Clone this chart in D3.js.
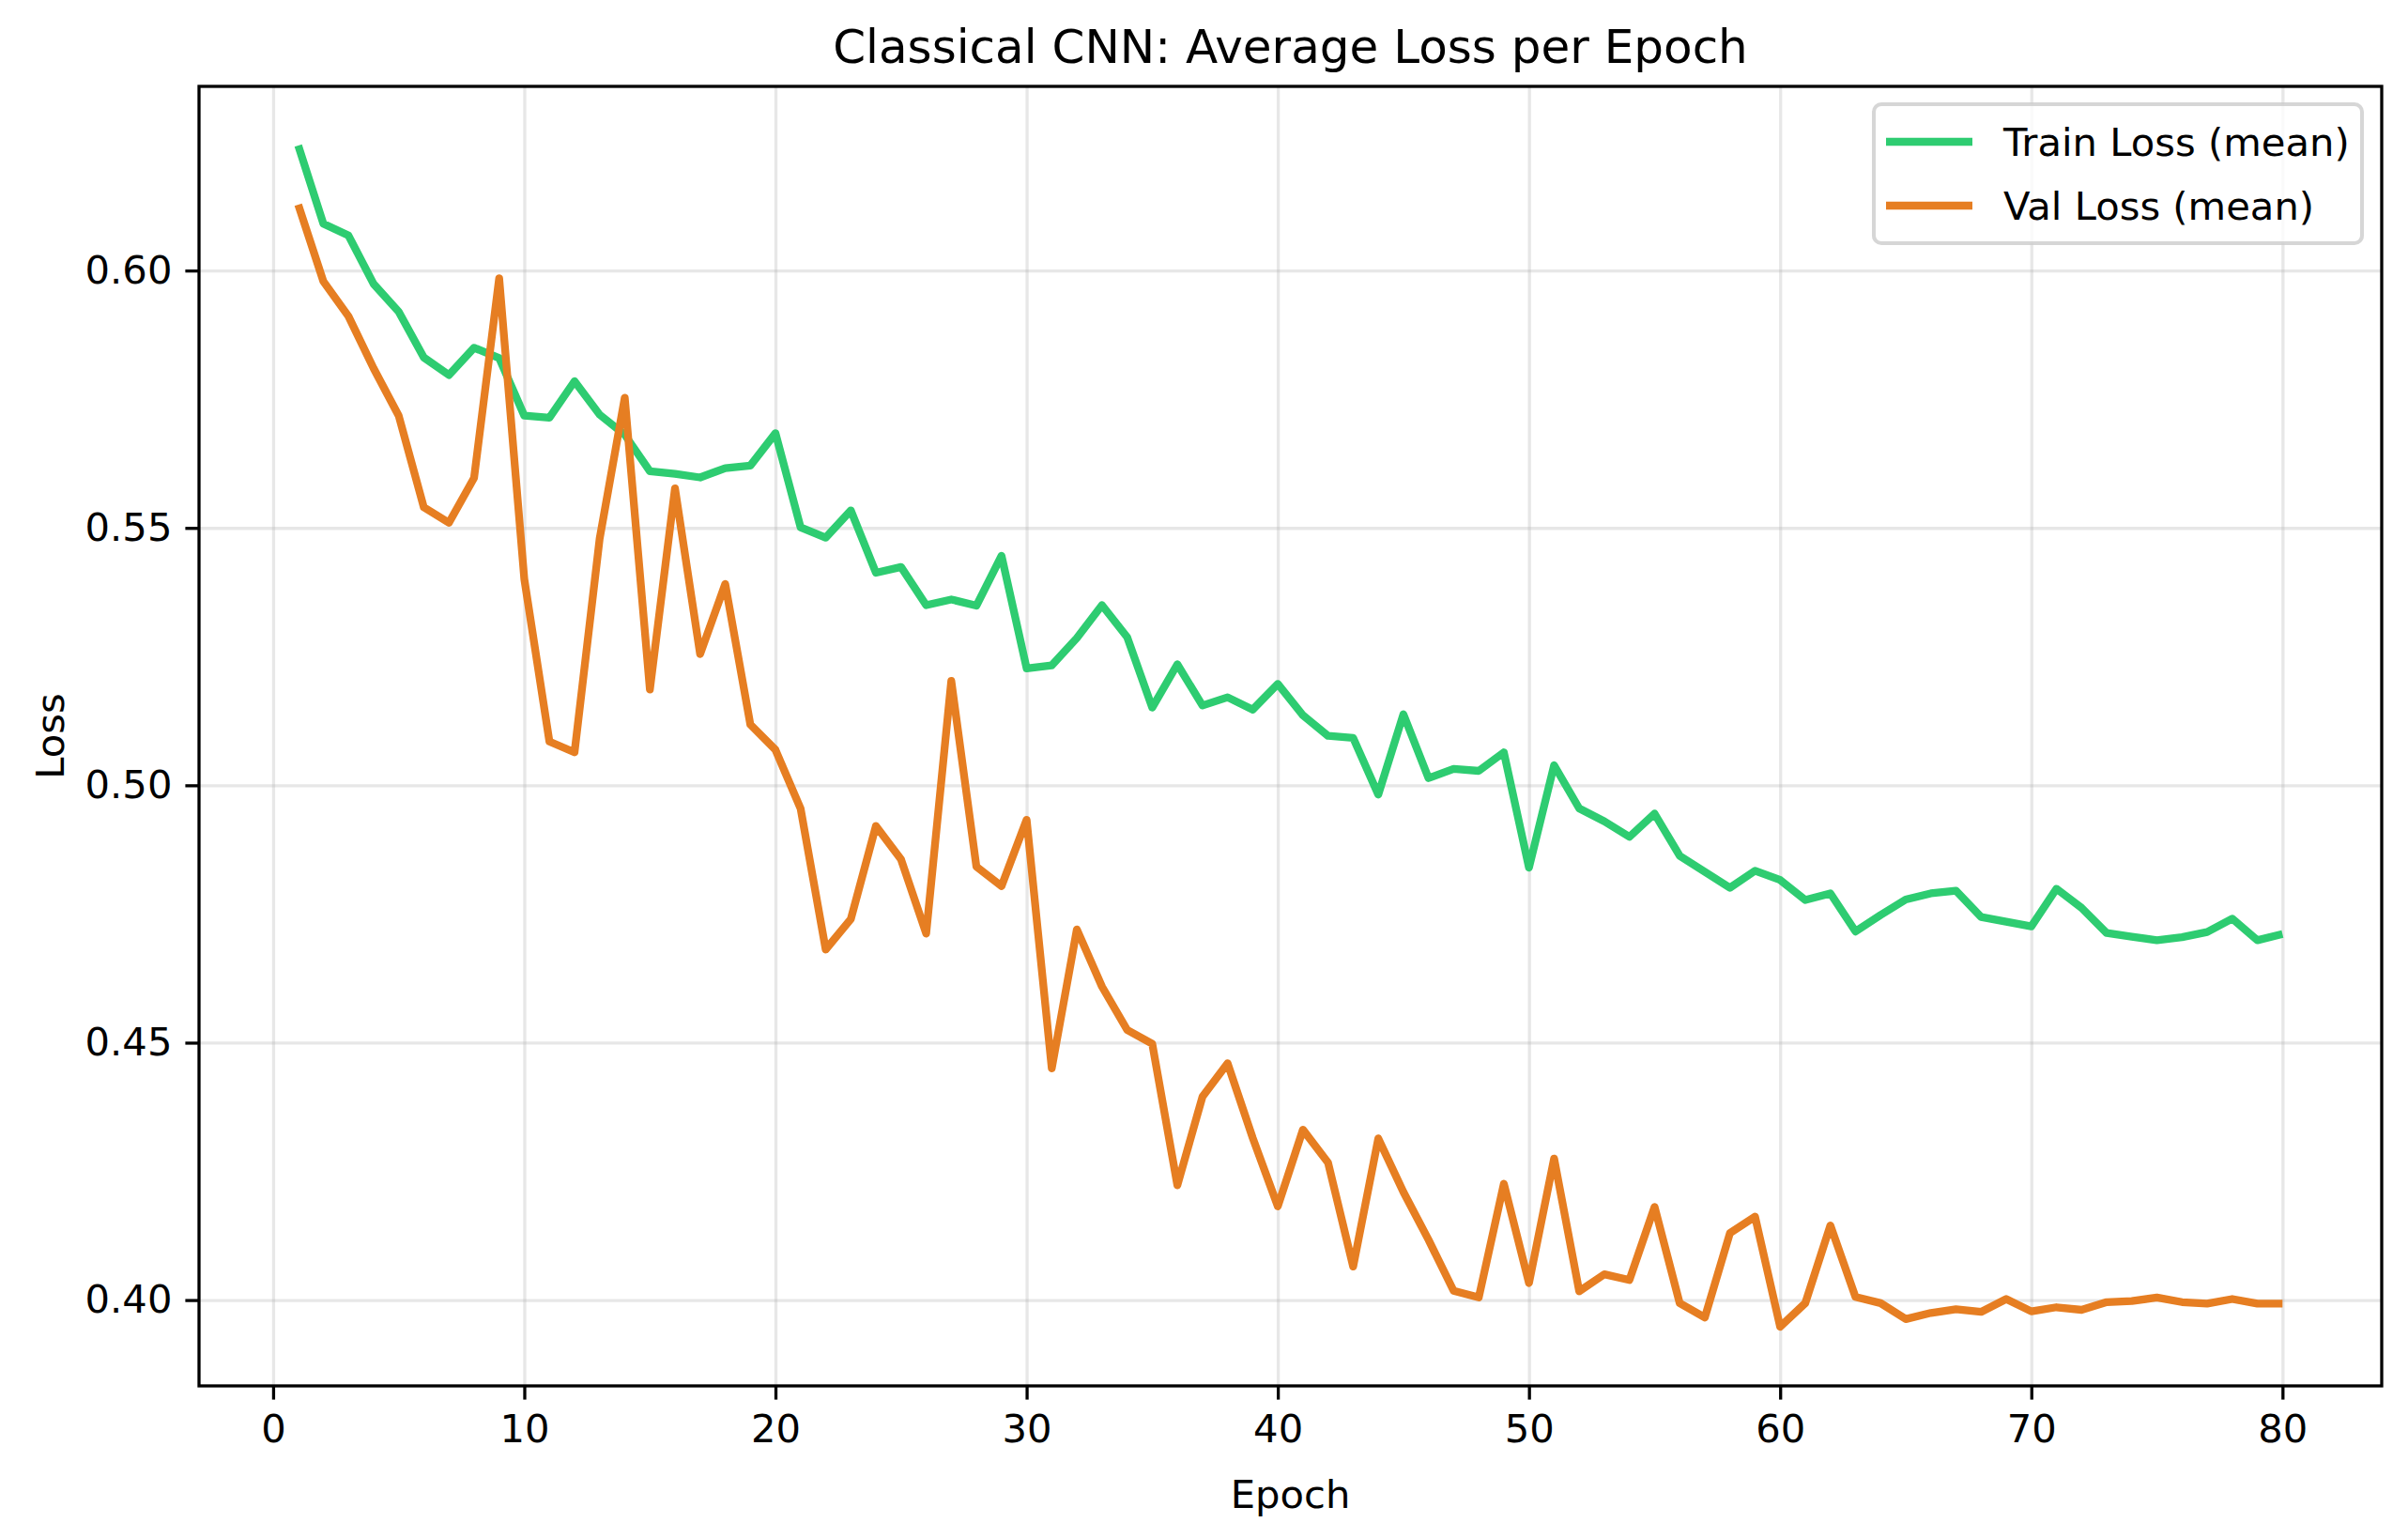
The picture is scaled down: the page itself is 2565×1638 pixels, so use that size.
<!DOCTYPE html>
<html>
<head>
<meta charset="utf-8">
<script src="https://cdn.jsdelivr.net/npm/d3@7.9.0/dist/d3.min.js"></script>
<style>
  body { margin: 0; background: #fff; }
  svg { display: block; font-family: 'DejaVu Sans', sans-serif; }
</style>
</head>
<body>
<div id="chart"></div>
<script>
const epochs = d3.range(1, 81);

const trainLoss = [
  0.6243, 0.6091, 0.6068, 0.5974, 0.592, 0.5831, 0.5797, 0.585, 0.583, 0.5718,
  0.5714, 0.5785, 0.572, 0.5681, 0.561, 0.5605, 0.5598, 0.5616, 0.5621, 0.5684,
  0.5501, 0.5481, 0.5534, 0.5413, 0.5424, 0.535, 0.5361, 0.5349, 0.5446, 0.5227,
  0.5233, 0.5286, 0.535, 0.5288, 0.5151, 0.5235, 0.5155, 0.5171, 0.5147, 0.5197,
  0.5136, 0.5096, 0.5092, 0.4982, 0.5138, 0.5014, 0.5032, 0.5028, 0.5064, 0.484,
  0.5039, 0.4955, 0.493, 0.49, 0.4945, 0.4863, 0.4832, 0.4801, 0.4834, 0.4816,
  0.4777, 0.479, 0.4716, 0.4748, 0.4778, 0.479, 0.4795, 0.4744, 0.4735, 0.4726,
  0.4799, 0.4762, 0.4713, 0.4706, 0.4699, 0.4705, 0.4715, 0.4741, 0.4699, 0.4711
];

const valLoss = [
  0.6128, 0.5979, 0.5911, 0.581, 0.5718, 0.554, 0.551, 0.5597, 0.5985, 0.5401,
  0.5085, 0.5064, 0.5479, 0.5753, 0.5186, 0.5577, 0.5255, 0.5391, 0.5118, 0.5069,
  0.4955, 0.4681, 0.474, 0.4921, 0.4856, 0.4712, 0.5203, 0.4842, 0.4804, 0.4933,
  0.445, 0.472, 0.4609, 0.4525, 0.4498, 0.4223, 0.4395, 0.446, 0.4315, 0.4182,
  0.4331, 0.4267, 0.4065, 0.4314, 0.421, 0.4117, 0.4018, 0.4005, 0.4226, 0.4033,
  0.4275, 0.4017, 0.405, 0.4039, 0.4181, 0.3994, 0.3966, 0.413, 0.4162, 0.3948,
  0.3994, 0.4145, 0.4006, 0.3994, 0.3963, 0.3975, 0.3982, 0.3977, 0.4002, 0.3978,
  0.3986, 0.3981, 0.3996, 0.3998, 0.4005, 0.3996, 0.3993, 0.4002, 0.3993, 0.3993
];

const seriesNames = ['Train Loss (mean)', 'Val Loss (mean)'];
const seriesColors = ['#2ecc71', '#e67e22'];
const xTicks = [0, 10, 20, 30, 40, 50, 60, 70, 80];
const yTicks = [0.40, 0.45, 0.50, 0.55, 0.60];

const width = 2565;
const height = 1638;
const margin = { top: 92, right: 28, bottom: 162, left: 212 };
const fs = 41.7;

const area = {
  left: margin.left,
  right: width - margin.right,
  top: margin.top,
  bottom: height - margin.bottom,
};

const svg = d3.select('#chart')
  .append('svg')
  .attr('width', width)
  .attr('height', height);

// matplotlib style 5% padding
const xPad = (d3.max(epochs) - d3.min(epochs)) * 0.05;
const allLoss = trainLoss.concat(valLoss);
const yPad = (d3.max(allLoss) - d3.min(allLoss)) * 0.05;

const x = d3.scaleLinear()
  .domain([d3.min(epochs) - xPad, d3.max(epochs) + xPad])
  .range([area.left, area.right]);

const y = d3.scaleLinear()
  .domain([d3.min(allLoss) - yPad, d3.max(allLoss) + yPad])
  .range([area.bottom, area.top]);

// grid
svg.append('g')
  .attr('transform', `translate(0, ${area.bottom})`)
  .call(d3.axisBottom(x).tickValues(xTicks).tickFormat('').tickSize(-(area.bottom - area.top)))
  .call((g) => g.select('.domain').remove())
  .selectAll('line')
  .attr('stroke', '#b0b0b0')
  .attr('stroke-opacity', 0.3)
  .attr('stroke-width', 3.3);

svg.append('g')
  .attr('transform', `translate(${area.left}, 0)`)
  .call(d3.axisLeft(y).tickValues(yTicks).tickFormat('').tickSize(-(area.right - area.left)))
  .call((g) => g.select('.domain').remove())
  .selectAll('line')
  .attr('stroke', '#b0b0b0')
  .attr('stroke-opacity', 0.3)
  .attr('stroke-width', 3.3);

// lines
const line = d3.line()
  .x((d, i) => x(epochs[i]))
  .y((d) => y(d));

[trainLoss, valLoss].forEach((values, i) => {
  svg.append('path')
    .datum(values)
    .attr('fill', 'none')
    .attr('stroke', seriesColors[i])
    .attr('stroke-width', 8.3)
    .attr('stroke-linejoin', 'round')
    .attr('stroke-linecap', 'butt')
    .attr('d', line);
});

// axes
const xAxis = svg.append('g')
  .attr('transform', `translate(0, ${area.bottom})`)
  .call(d3.axisBottom(x).tickValues(xTicks).tickFormat(d3.format('d')).tickSize(14.6).tickPadding(14));

const yAxis = svg.append('g')
  .attr('transform', `translate(${area.left}, 0)`)
  .call(d3.axisLeft(y).tickValues(yTicks).tickFormat(d3.format('.2f')).tickSize(14.6).tickPadding(14));

[xAxis, yAxis].forEach((g) => {
  g.select('.domain').remove();
  g.selectAll('line').attr('stroke', '#000').attr('stroke-width', 3.3);
  g.selectAll('text')
    .attr('fill', '#000')
    .style('font-size', `${fs}px`)
    .style('font-family', "'DejaVu Sans', sans-serif");
});
xAxis.selectAll('text').attr('dy', '0.76em');

// frame
svg.append('rect')
  .attr('x', area.left)
  .attr('y', area.top)
  .attr('width', area.right - area.left)
  .attr('height', area.bottom - area.top)
  .attr('fill', 'none')
  .attr('stroke', '#000')
  .attr('stroke-width', 3.3);

// title and labels
svg.append('text')
  .attr('x', (area.left + area.right) / 2)
  .attr('y', area.top - 25)
  .attr('text-anchor', 'middle')
  .style('font-size', '50px')
  .text('Classical CNN: Average Loss per Epoch');

svg.append('text')
  .attr('x', (area.left + area.right) / 2)
  .attr('y', area.bottom + 130)
  .attr('text-anchor', 'middle')
  .style('font-size', `${fs}px`)
  .text('Epoch');

svg.append('text')
  .attr('transform', `translate(68, ${(area.top + area.bottom) / 2}) rotate(-90)`)
  .attr('text-anchor', 'middle')
  .style('font-size', `${fs}px`)
  .text('Loss');

// legend
const legW = 520;
const legH = 148;
const legend = svg.append('g')
  .attr('transform', `translate(${area.right - 21 - legW}, ${area.top + 19})`);

legend.append('rect')
  .attr('width', legW)
  .attr('height', legH)
  .attr('rx', 8)
  .attr('fill', '#fff')
  .attr('fill-opacity', 0.8)
  .attr('stroke', '#cccccc')
  .attr('stroke-opacity', 0.8)
  .attr('stroke-width', 4);

seriesNames.forEach((name, i) => {
  const cy = 40 + i * 68;
  legend.append('line')
    .attr('x1', 13)
    .attr('x2', 105)
    .attr('y1', cy)
    .attr('y2', cy)
    .attr('stroke', seriesColors[i])
    .attr('stroke-width', 8.3);
  legend.append('text')
    .attr('x', 138)
    .attr('y', cy + 15)
    .style('font-size', `${fs}px`)
    .text(name);
});
</script>
</body>
</html>
